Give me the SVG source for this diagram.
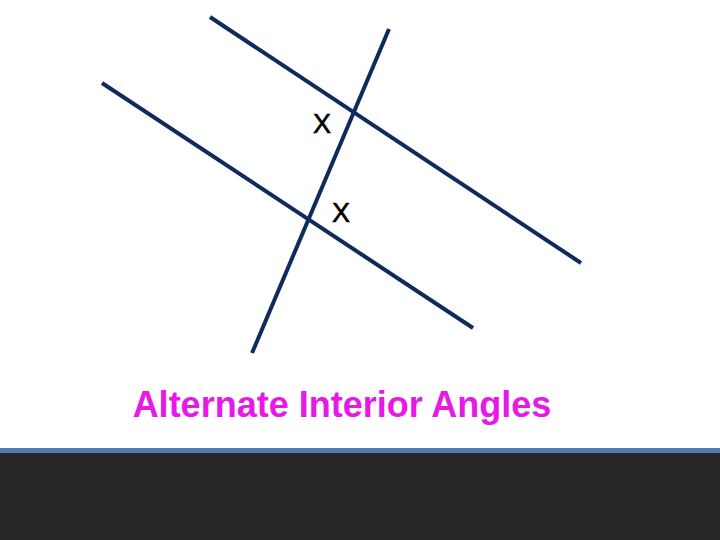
<svg xmlns="http://www.w3.org/2000/svg" width="720" height="540" viewBox="0 0 720 540">
<style>
.ln{stroke:#0f2a5c;stroke-width:4;stroke-linecap:butt;fill:none}
.x{font-family:"Liberation Sans",Arial,sans-serif;font-size:27px;fill:#000;stroke:#000;stroke-width:0.6}
.t{font-family:"Liberation Sans",Arial,sans-serif;font-weight:bold;font-size:36px;fill:#e619e6}
</style>
<rect width="720" height="540" fill="#fff"/>
<g id="lines">
<line class="ln" x1="210" y1="17" x2="581" y2="263"/>
<line class="ln" x1="102" y1="83" x2="473" y2="328"/>
<line class="ln" x1="389" y1="29" x2="252" y2="353"/>
</g>
<g id="labels">
<text class="x" x="322" y="133" text-anchor="middle">X</text>
<text class="x" x="341" y="222" text-anchor="middle">X</text>
</g>
<g id="title">
<text class="t" x="342" y="417" text-anchor="middle">Alternate Interior Angles</text>
</g>
<g id="footer">
<rect x="0" y="448" width="720" height="5" fill="#4f7bb5"/>
<rect x="0" y="453" width="720" height="87" fill="#262626"/>
</g>
</svg>
